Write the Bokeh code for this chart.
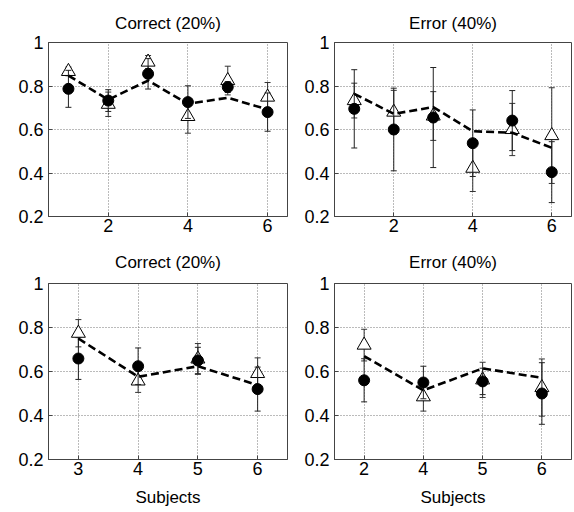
from bokeh.plotting import figure
from bokeh.layouts import column, row
from bokeh.models import FixedTicker, CustomJSTickFormatter, Range1d
from bokeh.embed import file_html
from bokeh.resources import INLINE

FONT = "Liberation Sans"

# ---------------- data ----------------
titles = ["Correct (20%)", "Error (40%)", "Correct (20%)", "Error (40%)"]
y_ticks = [0.2, 0.4, 0.6, 0.8, 1.0]

# top row: subjects 1..6
top_x = [1, 2, 3, 4, 5, 6]
top_xticks = [2, 4, 6]

tl_circle = [0.787, 0.733, 0.856, 0.726, 0.795, 0.680]
tl_circle_err = [0.085, 0.050, 0.070, 0.075, 0.025, 0.088]
tl_tri = [0.867, 0.716, 0.910, 0.660, 0.825, 0.749]
tl_tri_err = [0.020, 0.056, 0.030, 0.077, 0.066, 0.067]
tl_dash = [0.848, 0.737, 0.825, 0.718, 0.746, 0.692]

tr_circle = [0.695, 0.600, 0.655, 0.537, 0.641, 0.404]
tr_circle_err = [0.180, 0.190, 0.230, 0.153, 0.138, 0.140]
tr_tri = [0.733, 0.680, 0.662, 0.422, 0.600, 0.572]
tr_tri_err = [0.080, 0.100, 0.112, 0.107, 0.120, 0.220]
tr_dash = [0.764, 0.672, 0.703, 0.592, 0.585, 0.516]

# bottom row: 4 subjects each
bot_x = [1, 2, 3, 4]
bl_labels = ["3", "4", "5", "6"]
br_labels = ["2", "4", "5", "6"]

bl_circle = [0.659, 0.624, 0.650, 0.520]
bl_circle_err = [0.095, 0.083, 0.060, 0.100]
bl_tri = [0.774, 0.557, 0.657, 0.591]
bl_tri_err = [0.062, 0.052, 0.070, 0.071]
bl_dash = [0.750, 0.576, 0.624, 0.538]

br_circle = [0.560, 0.550, 0.555, 0.500]
br_circle_err = [0.098, 0.074, 0.060, 0.140]
br_tri = [0.720, 0.485, 0.562, 0.527]
br_tri_err = [0.072, 0.065, 0.080, 0.130]
br_dash = [0.670, 0.515, 0.614, 0.571]


def errbars(p, x, y, e, color):
    lo = [a - b for a, b in zip(y, e)]
    hi = [a + b for a, b in zip(y, e)]
    p.segment(x0=x, y0=lo, x1=x, y1=hi, line_color=color, line_width=1)
    p.scatter(x=x + x, y=lo + hi, marker="dash", size=6, line_color=color, line_width=1)


def panel(title, x, xticks, xlabels, xr, circ, circ_e, tri, tri_e, dash,
          frame_w, frame_h, mb_left, mb_right, mb_top, mb_bottom,
          title_standoff, xlabel=None):
    p = figure(frame_width=frame_w, frame_height=frame_h,
               x_range=Range1d(*xr), y_range=Range1d(0.2, 1.0),
               output_backend="svg", toolbar_location=None,
               min_border_left=mb_left, min_border_right=mb_right,
               min_border_top=mb_top, min_border_bottom=mb_bottom,
               background_fill_color="white", border_fill_color="white",
               outline_line_color="#444444", outline_line_width=1)
    p.title.text = title
    p.title.text_font = FONT
    p.title.text_font_size = "17px"
    p.title.text_font_style = "normal"
    p.title.text_color = "black"
    p.title.align = "center"
    p.title.vertical_align = "top"
    p.title.standoff = title_standoff

    # axes
    p.xaxis.ticker = FixedTicker(ticks=xticks)
    if xlabels is not None:
        p.xaxis.major_label_overrides = {t: l for t, l in zip(xticks, xlabels)}
    p.yaxis.ticker = FixedTicker(ticks=y_ticks)
    p.yaxis.formatter = CustomJSTickFormatter(
        code="return Math.abs(tick - 1) < 1e-9 ? '1' : tick.toFixed(1);")
    for ax in (p.xaxis[0], p.yaxis[0]):
        ax.major_tick_in = 4
        ax.major_tick_out = 0
        ax.minor_tick_in = 0
        ax.minor_tick_out = 0
        ax.axis_line_color = "#444444"
        ax.major_tick_line_color = "#444444"
        ax.major_label_text_font = FONT
        ax.major_label_text_font_size = "18px"
        ax.major_label_text_color = "black"
    p.xaxis.major_label_standoff = 2
    p.yaxis.major_label_standoff = 5
    if xlabel:
        p.xaxis.axis_label = xlabel
        p.xaxis.axis_label_text_font = FONT
        p.xaxis.axis_label_text_font_size = "17px"
        p.xaxis.axis_label_text_font_style = "normal"
        p.xaxis.axis_label_text_color = "black"
        p.xaxis.axis_label_standoff = 10

    # grid
    p.xgrid.ticker = FixedTicker(ticks=xticks)
    p.ygrid.ticker = FixedTicker(ticks=y_ticks)
    for g in (p.xgrid[0], p.ygrid[0]):
        g.grid_line_color = "#777777"
        g.grid_line_dash = "1 2"
        g.grid_line_width = 1

    # triangles with error bars
    errbars(p, x, tri, tri_e, "#333333")
    p.scatter(x=x, y=tri, marker="triangle", size=14, fill_color="white",
              line_color="black", line_width=1)
    # circles with error bars
    errbars(p, x, circ, circ_e, "#222222")
    p.scatter(x=x, y=circ, marker="circle", size=11, fill_color="black",
              line_color="black")
    # dashed curve
    p.line(x=x, y=dash, line_color="black", line_width=2.6, line_dash="8 4")
    return p


p1 = panel(titles[0], top_x, top_xticks, None, (0.5, 6.5),
           tl_circle, tl_circle_err, tl_tri, tl_tri_err, tl_dash,
           239, 174, 48, 5, 42, 24, 16)
p2 = panel(titles[1], top_x, top_xticks, None, (0.5, 6.5),
           tr_circle, tr_circle_err, tr_tri, tr_tri_err, tr_dash,
           237, 174, 42, 2, 42, 24, 16)
p3 = panel(titles[2], bot_x, bot_x, bl_labels, (0.5, 4.5),
           bl_circle, bl_circle_err, bl_tri, bl_tri_err, bl_dash,
           239, 176, 48, 5, 43, 53, 20, xlabel="Subjects")
p4 = panel(titles[3], bot_x, bot_x, br_labels, (0.5, 4.5),
           br_circle, br_circle_err, br_tri, br_tri_err, br_dash,
           237, 176, 42, 2, 43, 53, 20, xlabel="Subjects")

layout = column(row(p1, p2), row(p3, p4))
open("out.html", "w").write(file_html(layout, INLINE))
